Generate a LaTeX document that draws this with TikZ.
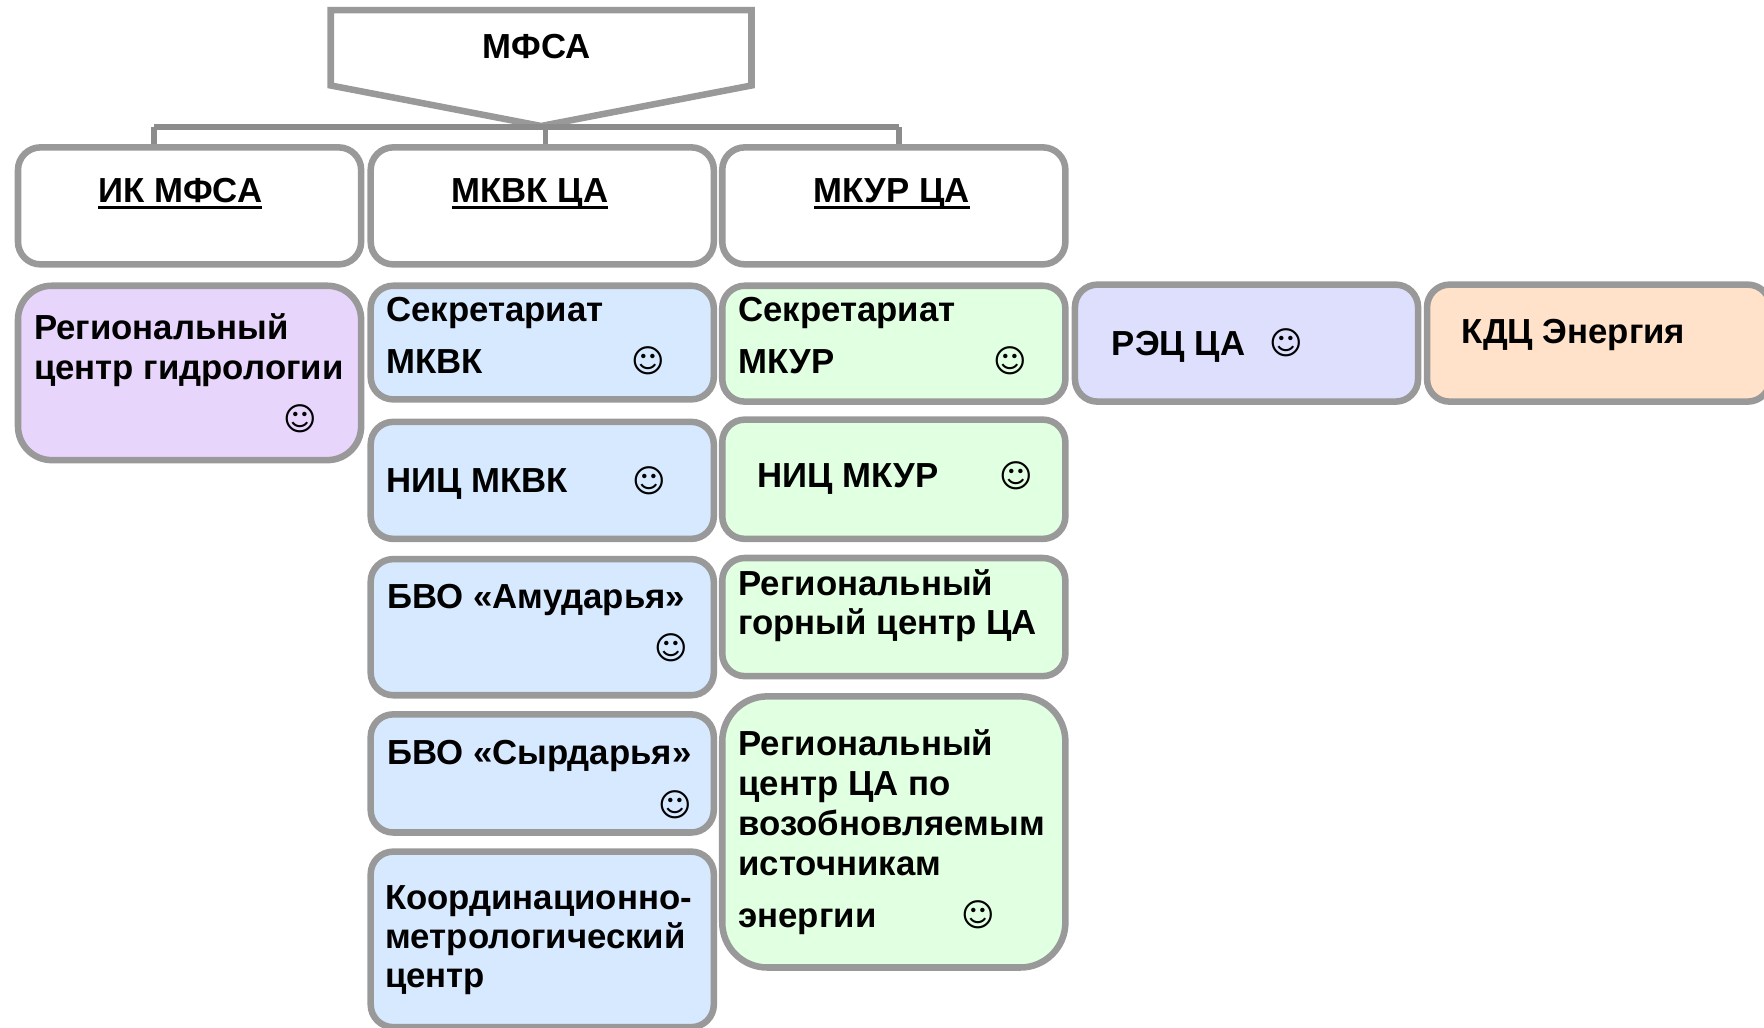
\documentclass[tikz,border=0pt]{standalone}
\usepackage{fontspec}
\setmainfont{Liberation Sans}
\newfontfamily\smileyfont{DejaVu Sans}
\usepackage{xcolor}
\definecolor{edgegray}{HTML}{999999}
\definecolor{linkgray}{HTML}{8C8C8C}
\definecolor{purplefill}{HTML}{E8D5FC}
\definecolor{bluefill}{HTML}{D7E9FF}
\definecolor{greenfill}{HTML}{E1FFE1}
\definecolor{lavenderfill}{HTML}{DEDEFD}
\definecolor{orangefill}{HTML}{FFE2C9}
\newcommand{\ulhead}[1]{\setbox0\hbox{#1}\rlap{\rule[-2.7pt]{\wd0}{1.3pt}}\box0}

\tikzset{
    box/.style={draw=edgegray, line width=2.9pt, rounded corners=10pt, minimum width=152.5pt, inner sep=0pt},
    head/.style={box, fill=white, minimum height=52pt},
    purplebox/.style={box, fill=purplefill, rounded corners=15pt},
    bluebox/.style={box, fill=bluefill},
    greenbox/.style={box, fill=greenfill},
    link/.style={draw=linkgray, line width=2.5pt},
    txt/.style={anchor=base west, inner sep=0pt, align=left, font=\fontsize{15.45}{17.5}\selectfont\bfseries},
    smiley/.style={inner sep=0pt, font=\fontsize{14.3}{14.3}\smileyfont}
}

\begin{document}
\begin{tikzpicture}[x=0.5pt, y=-0.5pt]
    \useasboundingbox (0, 0) rectangle (1568, 913);
    % top block
    \draw[draw=edgegray, line width=2.9pt, fill=white]
        (294, 9) -- (668, 9) -- (668, 76) -- (481, 112) -- (294, 76) -- cycle;
    \node[txt, anchor=base] (mfsa) at (477, 52) {МФСА};
    \coordinate (busl) at (137, 113);
    \coordinate (busm) at (485, 113);
    \coordinate (busr) at (799, 113);

    % headers
    \node[head] (ik)   at (168.5, 183) {};
    \node[head] (mkvk) at (482, 183)   {};
    \node[head] (mkur) at (794.5, 183) {};
    \node[txt] (iktxt)   at (87, 180)  {\ulhead{ИК МФСА}};
    \node[txt] (mkvktxt) at (401, 180) {\ulhead{МКВК ЦА}};
    \node[txt] (mkurtxt) at (723, 180) {\ulhead{МКУР ЦА}};

    \draw[link] (busl) -- (busr)
        (busl) -- (busl |- ik.north)
        (busm) -- (busm |- mkvk.north)
        (busr) -- (busr |- mkur.north);

    % first column
    \node[purplebox, minimum height=77.5pt] (hydro) at (168.5, 331.5) {};
    \node[txt] (hydrotxt) at (30, 337) {Региональный\\центр гидрологии};
    \node[smiley] (s1) at (267, 372) {☺};

    % second column
    \node[bluebox, minimum height=50.5pt] (secb) at (482, 304.5) {};
    \node[bluebox, minimum height=52pt]   (nicb) at (482, 427)   {};
    \node[bluebox, minimum height=60.5pt] (amu)  at (482, 557.5) {};
    \node[bluebox, minimum height=52.5pt] (syr)  at (482, 687.5) {};
    \node[bluebox, minimum height=78pt]   (kmc)  at (482, 835)   {};
    \node[txt] (secbtxt) at (343, 332) {Секретариат\\[5.5pt]МКВК};
    \node[txt] (nicbtxt) at (343, 438) {НИЦ МКВК};
    \node[txt] (amutxt)  at (344, 541) {БВО «Амударья»};
    \node[txt] (syrtxt)  at (344, 680) {БВО «Сырдарья»};
    \node[txt] (kmctxt)  at (342, 878) {Координационно-\\метрологический\\центр};
    \node[smiley] (s2) at (576, 321) {☺};
    \node[smiley] (s3) at (577, 427) {☺};
    \node[smiley] (s4) at (597, 576) {☺};
    \node[smiley] (s5) at (600, 715) {☺};

    % third column
    \node[greenbox, minimum height=51.5pt] (secg) at (794.5, 305.5) {};
    \node[greenbox, minimum height=53pt]   (nicg) at (794.5, 426)   {};
    \node[greenbox, minimum height=52.5pt] (gorn) at (794.5, 548.5) {};
    \node[greenbox, minimum height=120.5pt, rounded corners=20pt] (renew) at (794.5, 739.5) {};
    \node[txt] (secgtxt)  at (656, 332) {Секретариат\\[5.5pt]МКУР};
    \node[txt] (nicgtxt)  at (673, 433) {НИЦ МКУР};
    \node[txt] (gorntxt)  at (656, 564) {Региональный\\горный центр ЦА};
    \node[txt] (renewtxt) at (656, 824) {Региональный\\[.3pt]центр ЦА по\\[.3pt]возобновляемым\\[.2pt]источникам\\[5.5pt]энергии};
    \node[smiley] (s6) at (898, 321) {☺};
    \node[smiley] (s7) at (903, 423) {☺};
    \node[smiley] (s8) at (870, 813) {☺};

    % right boxes
    \node[box, fill=lavenderfill, minimum height=52pt] (rec) at (1108, 305) {};
    \node[box, fill=orangefill, minimum height=52pt]   (kdc) at (1421, 305) {};
    \node[txt] (rectxt) at (988, 316)  {РЭЦ ЦА};
    \node[txt] (kdctxt) at (1299, 305) {КДЦ Энергия};
    \node[smiley] (s9) at (1143, 305) {☺};
\end{tikzpicture}
\end{document}
